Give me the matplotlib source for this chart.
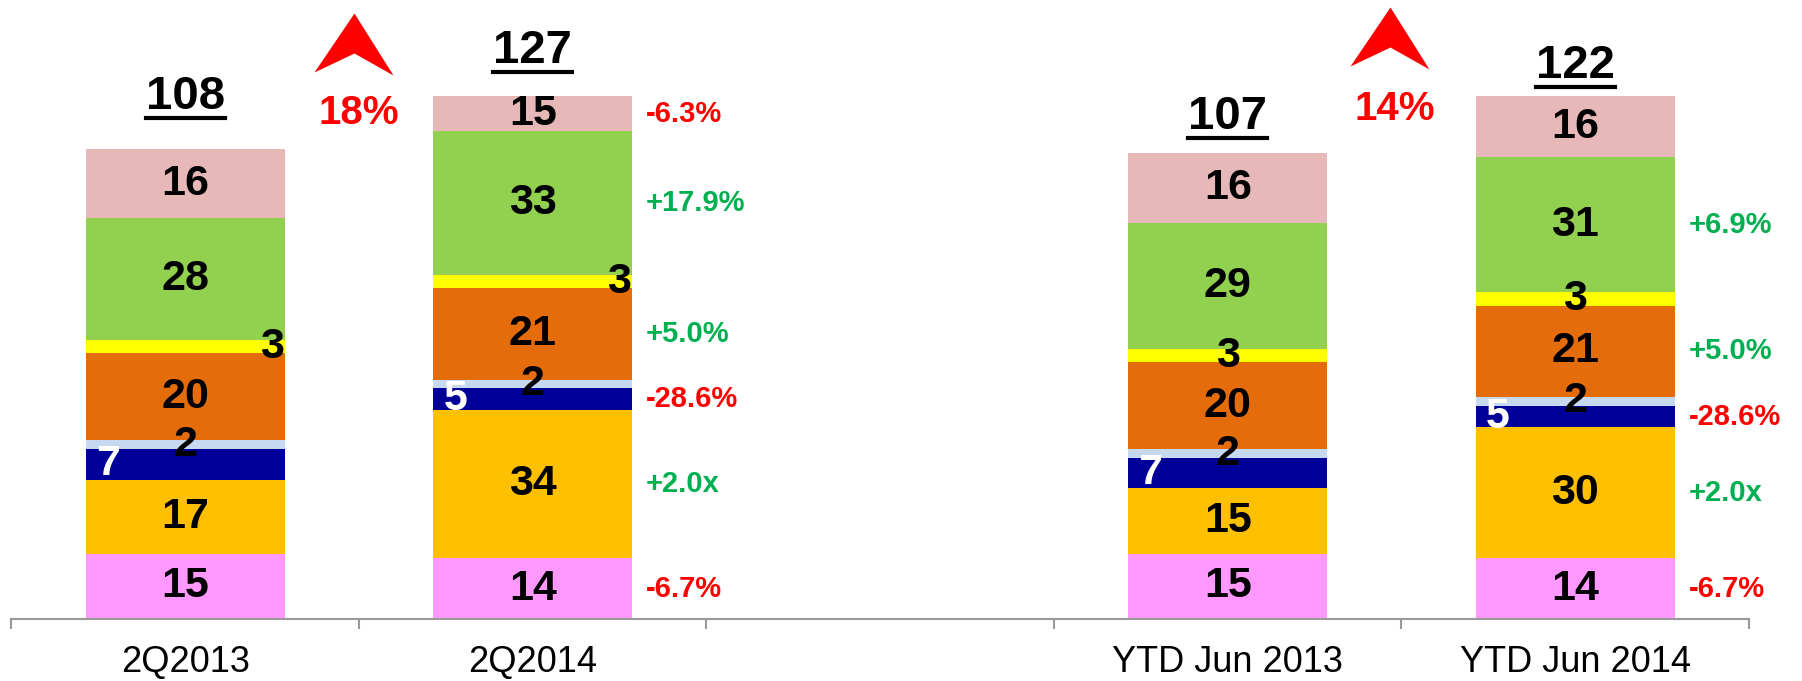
import matplotlib
matplotlib.use('Agg')
import matplotlib.pyplot as plt
from matplotlib.path import Path
from matplotlib.lines import Line2D
import numpy as np

plt.rcParams['font.family'] = ['Liberation Sans', 'DejaVu Sans']

# data
categories = ['2Q2013', '2Q2014', 'YTD Jun 2013', 'YTD Jun 2014']
seg_pink = [15, 14, 15, 14]
seg_gold = [17, 34, 15, 30]
seg_navy = [7, 5, 7, 5]
seg_lightblue = [2, 2, 2, 2]
seg_orange = [20, 21, 20, 21]
seg_yellow = [3, 3, 3, 3]
seg_green = [28, 33, 29, 31]
seg_rose = [16, 15, 16, 16]
totals = [108, 127, 107, 122]
growth = ['18%', '14%']
# change labels next to the 2014 bars, bottom segment first
chg_2q = ['-6.7%', '+2.0x', '-28.6%', '', '+5.0%', '', '+17.9%', '-6.3%']
chg_ytd = ['-6.7%', '+2.0x', '-28.6%', '', '+5.0%', '', '+6.9%', '']

segments = [seg_pink, seg_gold, seg_navy, seg_lightblue,
            seg_orange, seg_yellow, seg_green, seg_rose]
colors = ['#FF99FF', '#FFC000', '#000099', '#C6D9F1',
          '#E46C0A', '#FFFF00', '#92D050', '#E6B9B8']

# layout
xpos = [0, 1, 3, 4]
bar_w = 0.573
ymax = 120
total_y = [117.1, 127.7, 112.5, 124.3]
arrow_xy = [(0.486, 132.3), (3.467, 133.7)]
growth_xy = [(0.5, 113.7), (3.481, 114.6)]

fig = plt.figure(figsize=(18.02, 6.81), dpi=100)
ax = fig.add_axes([0.00638, 0.0910, 0.9642, 0.7673])
ax.set_xlim(-0.5, 4.5)
ax.set_ylim(0, ymax)

bottom = np.zeros(len(xpos))
for k, (vals, col) in enumerate(zip(segments, colors)):
    ax.bar(xpos, vals, width=bar_w, bottom=bottom, color=col, linewidth=0)
    for i, x in enumerate(xpos):
        lo = bottom[i]
        hi = min(lo + vals[i], ymax)
        yc = (lo + hi) / 2
        if k == 2:
            ax.text(x - bar_w / 2 + 0.03, yc, str(vals[i]), ha='left', va='center',
                    fontsize=31, fontweight='bold', color='white')
        elif k == 5 and i < 2:
            ax.text(x + bar_w / 2 - 0.003, yc, str(vals[i]), ha='right', va='center',
                    fontsize=31, fontweight='bold', color='black')
        else:
            ax.text(x, yc, str(vals[i]), ha='center', va='center',
                    fontsize=31, fontweight='bold', color='black')
        chg = None
        if i == 1:
            chg = chg_2q[k]
        elif i == 3:
            chg = chg_ytd[k]
        if chg:
            c = '#FF0000' if chg.startswith('-') else '#00B050'
            ax.text(x + bar_w / 2 + 0.04, yc, chg, ha='left', va='center',
                    fontsize=21, fontweight='bold', color=c)
    bottom = bottom + np.array(vals)

# totals
total_txt = []
for x, y, t in zip(xpos, total_y, totals):
    total_txt.append(ax.text(x, y, str(t), ha='center', va='baseline',
                             fontsize=34, fontweight='bold', color='black'))

# growth arrows
arrow = Path([(0, 30), (39, -32), (0, -10), (-40, -29), (0, 30)],
             [Path.MOVETO, Path.LINETO, Path.LINETO, Path.LINETO, Path.CLOSEPOLY])
for (ax_x, ax_y) in arrow_xy:
    ax.plot([ax_x], [ax_y], marker=arrow, markersize=57.6, color='#FF0000',
            markeredgewidth=0, linestyle='none', clip_on=False)
for (gx, gy), g in zip(growth_xy, growth):
    ax.text(gx, gy, g, ha='center', va='baseline', fontsize=29,
            fontweight='bold', color='#FF0000')

# axis
ax.set_xticks(xpos)
ax.set_xticklabels(categories)
ax.set_xticks(np.arange(-0.5, 5, 1), minor=True)
ax.tick_params(axis='x', which='major', length=0, pad=19, labelsize=26)
ax.tick_params(axis='x', which='minor', length=7.2, width=1.5, color='#999999',
               direction='out')
ax.yaxis.set_visible(False)
for s in ['left', 'right', 'top']:
    ax.spines[s].set_visible(False)
ax.spines['bottom'].set_color('#999999')
ax.spines['bottom'].set_linewidth(1.5)

# underline the totals
fig.canvas.draw()
r = fig.canvas.get_renderer()
W, H = fig.get_size_inches() * fig.dpi
for t, x, y in zip(total_txt, xpos, total_y):
    bb = t.get_window_extent(r)
    base = ax.transData.transform((x, y))[1]
    yl = base - 9
    fig.add_artist(Line2D([bb.x0 / W, bb.x1 / W], [yl / H, yl / H],
                          transform=fig.transFigure, color='black', linewidth=3))

fig.savefig('out.png', dpi=100)
